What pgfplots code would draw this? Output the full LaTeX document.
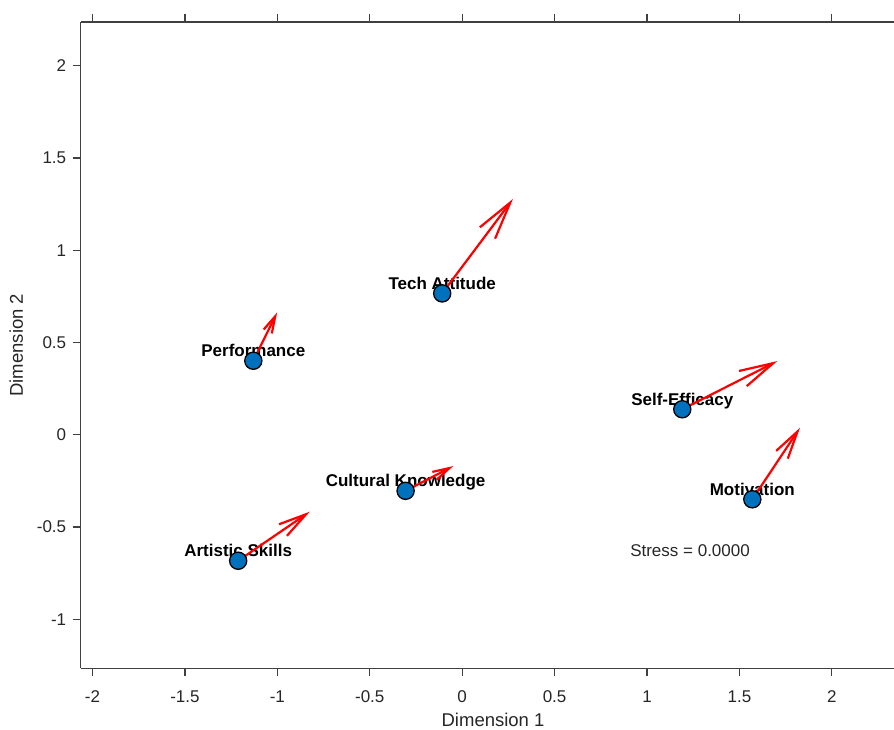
\documentclass[border=0pt]{standalone}
\usepackage{fontspec}
\setmainfont{Liberation Sans}
\usepackage{pgfplots}
\pgfplotsset{compat=1.18}
\usetikzlibrary{arrows.meta}
\definecolor{mblue}{rgb}{0,0.447,0.741}
\definecolor{axgray}{HTML}{404040}
\definecolor{txtgray}{HTML}{262626}
\begin{document}
\begin{tikzpicture}
\begin{axis}[
  at={(0,0)}, anchor=south west, scale only axis,
  width=813.3pt, height=646.3pt,
  xmin=-2.064, xmax=2.3366, ymin=-1.266, ymax=2.237,
  axis x line*=box, axis y line*=left,
  xtick={-2,-1.5,-1,-0.5,0,0.5,1,1.5,2},
  ytick={-1,-0.5,0,0.5,1,1.5,2},
  xtick pos=both, xticklabel pos=lower, ytick pos=left,
  tick align=outside, major tick length=8pt,
  every tick/.style={axgray, line width=1.3pt},
  axis line style={axgray, line width=1.3pt},
  /pgf/number format/assume math mode=true,
  /pgf/number format/fixed,
  tick label style={font=\fontsize{17}{17}\selectfont, text=txtgray},
  xticklabel style={yshift=-11pt},
  yticklabel style={xshift=-3pt},
  xlabel={Dimension 1}, ylabel={Dimension 2},
  label style={font=\fontsize{18.5}{18.5}\selectfont, text=txtgray},
  xlabel style={at={(axis description cs:0.507,-0.0904)}, anchor=base},
  ylabel style={at={(axis description cs:-0.07095,0.5)}, anchor=base},
  clip=false,
]
\addplot[only marks, mark=*, mark size=8.6pt, mark options={fill=mblue, draw=black, line width=1.3pt}] coordinates {
  (-1.130,0.401) (-0.108,0.766) (1.191,0.138) (1.570,-0.350) (-0.306,-0.304) (-1.212,-0.683)
};
\begin{scope}[every node/.style={font=\bfseries\fontsize{17}{17}\selectfont, anchor=base, yshift=4pt}]
\node at (axis cs:-1.130,0.401) {Performance};
\node at (axis cs:-0.108,0.766) {Tech Attitude};
\node at (axis cs:1.191,0.138) {Self-Efficacy};
\node at (axis cs:1.570,-0.350) {Motivation};
\node at (axis cs:-0.306,-0.304) {Cultural Knowledge};
\node at (axis cs:-1.212,-0.683) {Artistic Skills};
\end{scope}
\addplot[red, line width=2.2pt, -{Straight Barb[length=17pt, width=9pt]}] coordinates {(-1.130,0.401) (-1.001,0.663)};
\addplot[red, line width=2.2pt, -{Straight Barb[length=38pt, width=19pt]}] coordinates {(-0.108,0.766) (0.275,1.278)};
\addplot[red, line width=2.2pt, -{Straight Barb[length=34pt, width=17pt]}] coordinates {(1.191,0.138) (1.705,0.399)};
\addplot[red, line width=2.2pt, -{Straight Barb[length=28pt, width=14pt]}] coordinates {(1.570,-0.350) (1.828,0.038)};
\addplot[red, line width=2.2pt, -{Straight Barb[length=17pt, width=9pt]}] coordinates {(-0.306,-0.304) (-0.048,-0.170)};
\addplot[red, line width=2.2pt, -{Straight Barb[length=28pt, width=14pt]}] coordinates {(-1.212,-0.683) (-0.824,-0.417)};
\node[font=\fontsize{17}{17}\selectfont, text=txtgray, anchor=base] at (axis cs:1.233,-0.661) {Stress = 0.0000};
\end{axis}
\pgfresetboundingbox
\path (-80.7pt,-60.7pt) rectangle (813.3pt,668.3pt);
\end{tikzpicture}
\end{document}
